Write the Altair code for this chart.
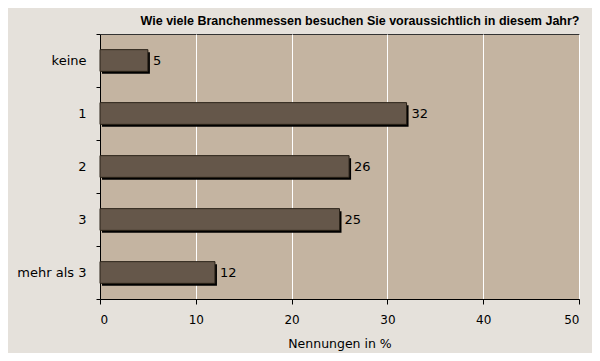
import altair as alt
import pandas as pd

categories = ["keine", "1", "2", "3", "mehr als 3"]
values = [5, 32, 26, 25, 12]

df = pd.DataFrame({"cat": categories, "val": values})

FONT = "DejaVu Sans"
BAR_BAND = 0.41

y_enc = alt.Y("cat:N", sort=categories, title=None,
              scale=alt.Scale(paddingInner=0, paddingOuter=0),
              axis=alt.Axis(tickBand="extent", labelFontSize=13, labelColor="black",
                            labelFont=FONT, labelPadding=10, tickSize=4,
                            domainColor="black", tickColor="black", grid=False))
x_enc = alt.X("val:Q", title="Nennungen in %",
              scale=alt.Scale(domain=[0, 50], nice=False),
              axis=alt.Axis(values=[0, 10, 20, 30, 40, 50], labelFontSize=12, labelColor="black",
                            labelFont=FONT, titleFont=FONT, titleFontSize=12.5,
                            titleFontWeight="normal", titleColor="black", titlePadding=12,
                            tickSize=5, labelPadding=10, domainColor="black", tickColor="black",
                            grid=True, gridColor="white", gridWidth=1))

shadow = alt.Chart(df).mark_bar(color="black", xOffset=2, yOffset=2.5,
                                height={"band": BAR_BAND}).encode(x=x_enc, y=y_enc)
bars = alt.Chart(df).mark_bar(color="#65574a", stroke="#2a2218", strokeWidth=1,
                              height={"band": BAR_BAND}).encode(
    x="val:Q", y=alt.Y("cat:N", sort=categories))
labels = alt.Chart(df).mark_text(align="left", dx=5, fontSize=13, font=FONT, color="black").encode(
    x="val:Q", y=alt.Y("cat:N", sort=categories), text="val:Q")

chart = alt.layer(shadow, bars, labels).properties(
    width=479, height=265,
    background="#e5e1db",
    autosize=alt.AutoSizeParams(type="none"),
    padding={"left": 92, "top": 26, "right": 13, "bottom": 54},
    title=alt.TitleParams("Wie viele Branchenmessen besuchen Sie voraussichtlich in diesem Jahr?",
                          anchor="end", font="Liberation Sans", fontSize=12.5, fontWeight="bold",
                          color="black", offset=1),
).configure_view(fill="#c4b4a1", stroke="#333333", strokeWidth=1)

chart.save("out.html", embed_options={"renderer": "svg", "actions": False})
